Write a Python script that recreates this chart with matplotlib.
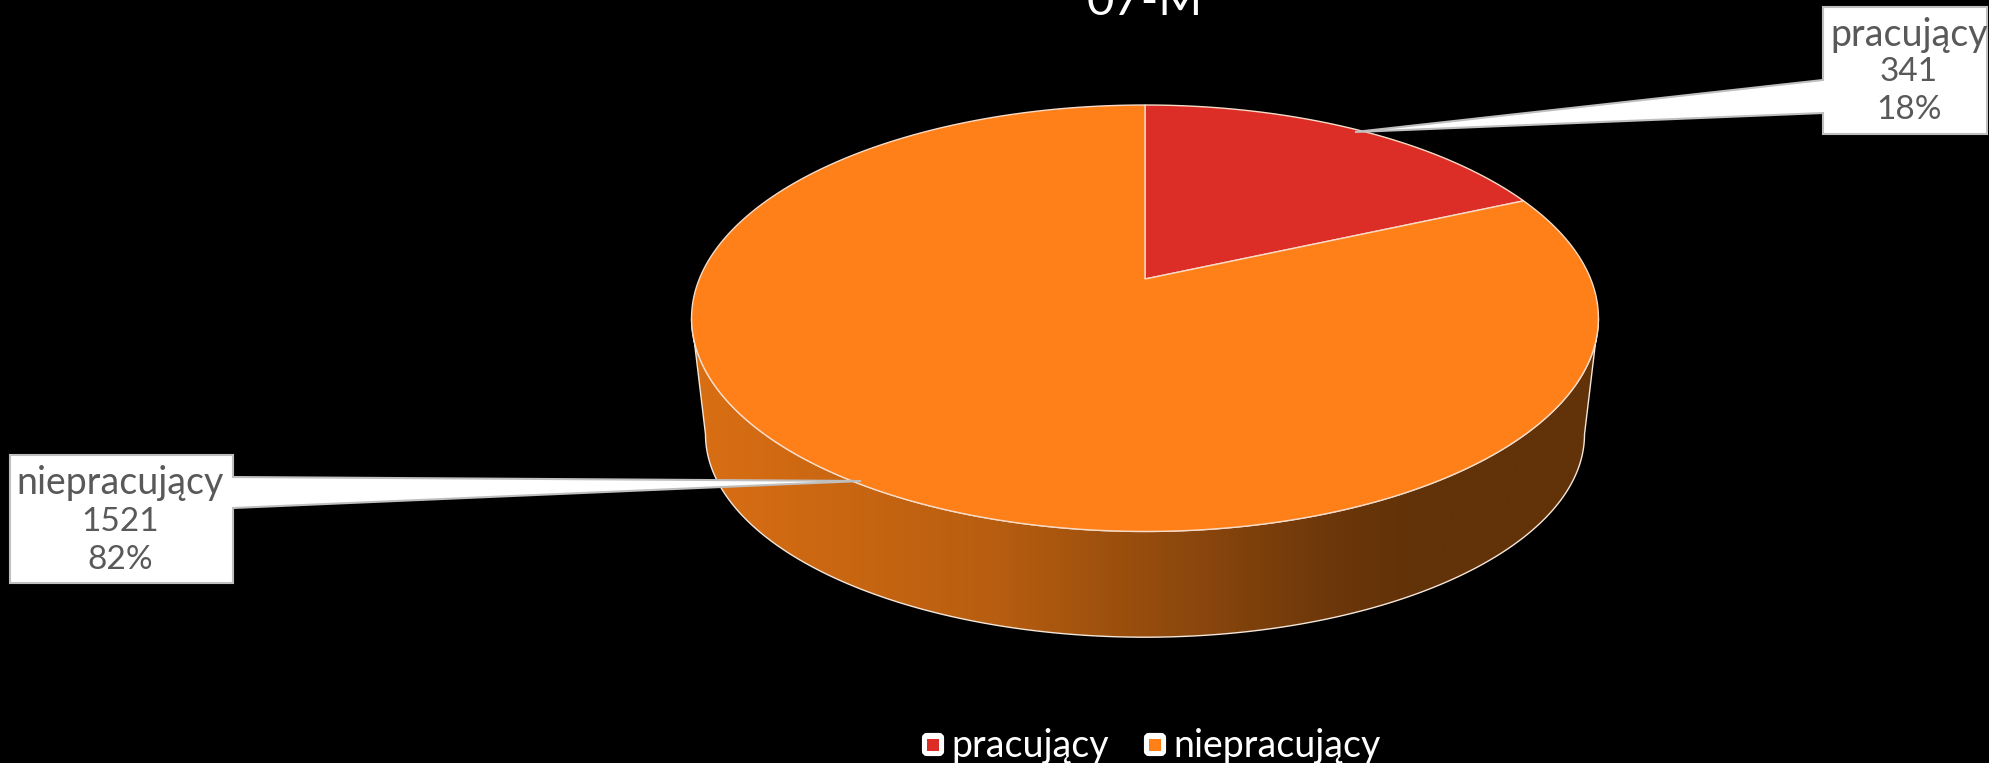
import numpy as np
import matplotlib
matplotlib.use('Agg')
import matplotlib.pyplot as plt
from matplotlib.patches import Polygon, FancyBboxPatch
from matplotlib.colors import LinearSegmentedColormap

# dane
kategorie = ['pracujący', 'niepracujący']
wartosci = [341, 1521]
procenty = ['18%', '82%']
kolory = ['#DC2E26', '#FF7F18']
tytul = '07-M'

plt.rcParams['font.family'] = ['Lato', 'DejaVu Sans']

# os w pikselach obrazka, y w dol
fig = plt.figure(figsize=(19.89, 7.63), dpi=100)
fig.set_facecolor('black')
ax = fig.add_axes([0, 0, 1, 1])
ax.set_xlim(0, 1989)
ax.set_ylim(763, 0)
ax.axis('off')

# parametry rzutu perspektywicznego kola
cx = 1145
k = 0.184


def rzut(kat, a, h, y0):
    # kat w stopniach, zgodnie z zegarem od gory
    t = np.radians(kat)
    u, v = np.sin(t), np.cos(t)
    return np.column_stack([cx + a * u / (1 + k * v), y0 - h * v / (1 + k * v)])


gora = dict(a=445.7, h=206, y0=279)
dol = dict(a=432, h=196, y0=397)

# bok - gradient poziomy przyciety do ksztaltu
kat0 = np.degrees(np.arccos(-k))
katy = np.linspace(kat0, 360 - kat0, 300)
bok_pts = np.vstack([rzut(katy, **gora), rzut(katy[::-1], **dol)])
bok = Polygon(bok_pts, closed=True, fc='none', ec='none')
ax.add_patch(bok)
cmap = LinearSegmentedColormap.from_list('bok', [(0, '#DA6F14'), (0.33, '#B85E10'),
                                                 (0.72, '#6A360A'), (0.8, '#623208'), (1, '#623208')])
im = ax.imshow(np.linspace(0, 1, 512).reshape(1, -1), extent=(691, 1598, 763, 0), aspect='auto',
               cmap=cmap, zorder=2)
im.set_clip_path(bok)
ax.set_xlim(0, 1989)
ax.set_ylim(763, 0)
ax.add_patch(Polygon(bok_pts, closed=True, fc='none', ec='#F4E6DA', lw=1, zorder=3))

# gora - wycinki z danych
koniec = np.cumsum(wartosci) / sum(wartosci) * 360
start = 0
for i in range(len(wartosci)):
    luk = rzut(np.linspace(start, koniec[i], 300), **gora)
    pts = np.vstack([[cx, gora['y0']], luk])
    ax.add_patch(Polygon(pts, closed=True, fc=kolory[i], ec='#F6DCC8', lw=1, zorder=4))
    start = koniec[i]

# tytul - uciety gora obrazka, tak jak na oryginale
ax.text(cx, 15, tytul, color='white', fontsize=34, ha='center', va='baseline', zorder=6)


def opis(pts, tekst_x, linie_y, i):
    ax.add_patch(Polygon(pts, closed=True, fc='white', ec='#BFBFBF', lw=1.5, zorder=5))
    ax.text(tekst_x, linie_y[0], kategorie[i], color='#595959', fontsize=27, ha='center', va='center', zorder=6)
    ax.text(tekst_x, linie_y[1], str(wartosci[i]), color='#595959', fontsize=24, ha='center', va='center', zorder=6)
    ax.text(tekst_x, linie_y[2], procenty[i], color='#595959', fontsize=24, ha='center', va='center', zorder=6)


# opisy z dziobkami
opis([(1823, 7), (1987, 7), (1987, 134), (1823, 134), (1823, 113), (1355, 132), (1823, 80)],
     1909, [35, 72, 110], 0)
opis([(10, 455), (233, 455), (233, 477), (861, 481), (233, 508), (233, 583), (10, 583)],
     120.5, [483, 522, 560], 1)

# legenda
leg_x = [922, 1144]
for i, x in enumerate(leg_x):
    ax.add_patch(FancyBboxPatch((x + 2, 735), 18, 19, boxstyle='round,pad=0,rounding_size=3',
                                fc='white', ec='white', lw=3, zorder=5))
    ax.add_patch(plt.Rectangle((x + 5, 739), 12, 12, fc=kolory[i], ec='none', zorder=6))
    ax.text(x + 29, 757, kategorie[i], color='white', fontsize=27, ha='left', va='baseline', zorder=6)

plt.savefig('out.png', dpi=100, facecolor='black')
plt.close()
